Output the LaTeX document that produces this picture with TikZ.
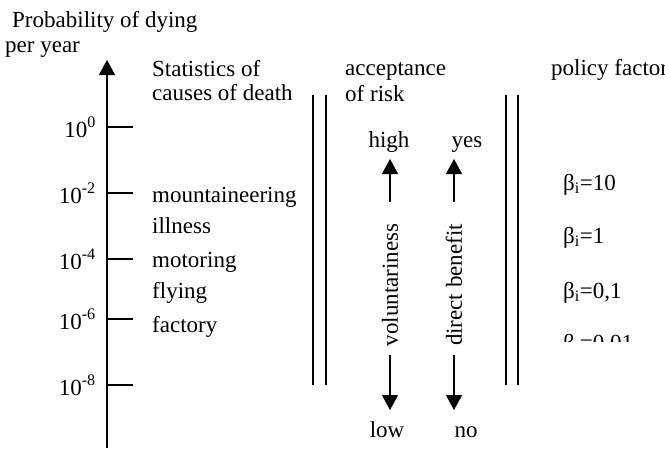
\documentclass[tikz,border=0pt]{standalone}
\usepackage{fontspec}
\setmainfont{Liberation Serif}
\usetikzlibrary{arrows.meta}
\begin{document}
\begin{tikzpicture}[x=1pt,y=-1pt,
  txt/.style={inner sep=0pt,font=\fontsize{23}{27}\selectfont},
  lbl/.style={txt,anchor=base west},
  tick/.style={line width=1.2pt},
  rule/.style={line width=1.1pt},
  arr/.style={line width=1.2pt,-{Triangle[width=16pt,length=15pt]}}]
\useasboundingbox (0,0) rectangle (665,448);

% vertical probability axis with decade ticks
\coordinate (axbot) at (107,448);
\coordinate (axtop) at (107,60);
\draw[arr] (axbot) -- (axtop);
\foreach \y/\e/\n in {127/0/a,193/-2/b,259/-4/c,319/-6/d,385/-8/e}{
  \coordinate (t\n) at (107,\y);
  \coordinate (u\n) at (133,\y);
  \draw[tick] (t\n) -- (u\n);
  \node[txt,anchor=base east] (d\n) at (96,\y+10) {10\textsuperscript{\e}};
}

\node[lbl] (ptitle) at (12,27) {Probability of dying};
\node[lbl] (pyear) at (5,52) {per year};

% causes of death column
\node[lbl] (stat1) at (152,76) {Statistics of};
\node[lbl] (stat2) at (152,100) {causes of death};
\node[lbl] (mount) at (152,202) {mountaineering};
\node[lbl] (ill) at (152,233) {illness};
\node[lbl] (motor) at (152,267) {motoring};
\node[lbl] (fly) at (152,298) {flying};
\node[lbl] (fact) at (152,332) {factory};

% column separators
\foreach \x/\n in {313/p,326/q,506/r,518/s}{
  \coordinate (s\n1) at (\x,95);
  \coordinate (s\n2) at (\x,385);
  \draw[rule] (s\n1) -- (s\n2);
}

% acceptance of risk column
\node[lbl] (acc1) at (345,75) {acceptance};
\node[lbl] (acc2) at (345,101) {of risk};
\node[txt,anchor=base] (high) at (389,147) {high};
\node[txt,anchor=base] (yes) at (467,147) {yes};
\node[txt,anchor=base] (low) at (387,437) {low};
\node[txt,anchor=base] (no) at (466,437) {no};
\node[txt,rotate=90] (vol) at (390,285) {voluntariness};
\node[txt,rotate=90] (ben) at (454,285) {direct benefit};
\coordinate (v1) at (390,202); \coordinate (v2) at (390,159);
\coordinate (v3) at (390,355); \coordinate (v4) at (390,410);
\coordinate (b1) at (454,202); \coordinate (b2) at (454,159);
\coordinate (b3) at (454,355); \coordinate (b4) at (454,410);
\draw[arr] (v1) -- (v2);
\draw[arr] (v3) -- (v4);
\draw[arr] (b1) -- (b2);
\draw[arr] (b3) -- (b4);

% policy factor column
\node[lbl] (pol) at (551,75) {policy factor};
\node[lbl] (beta1) at (563,190) {β\textsubscript{i}=10};
\node[lbl] (beta2) at (563,243) {β\textsubscript{i}=1};
\node[lbl] (beta3) at (563,298) {β\textsubscript{i}=0,1};
\begin{scope}
  \clip (540,320) rectangle (665,341);
  \node[lbl] (beta4) at (563,350) {β\textsubscript{i}=0.01};
\end{scope}
\end{tikzpicture}
\end{document}
